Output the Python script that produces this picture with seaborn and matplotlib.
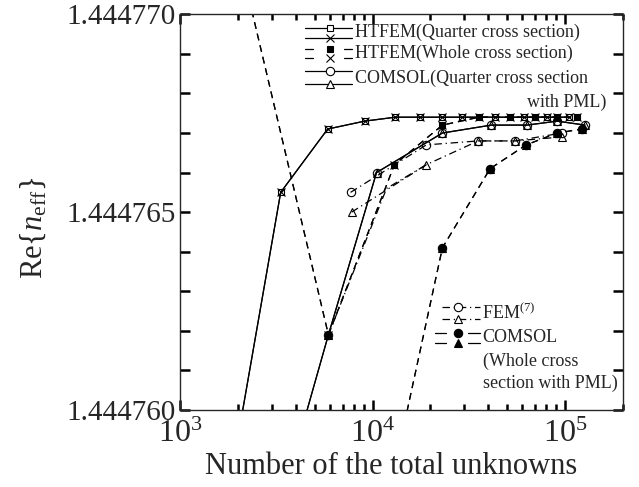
import numpy as np
import pandas as pd
import seaborn as sns
import matplotlib
matplotlib.use("Agg")
import matplotlib.pyplot as plt
from matplotlib.ticker import LogLocator, FixedLocator, FuncFormatter, NullFormatter

# ---------------- data ----------------
# HTFEM (quarter cross section): square & cross, solid
htq_x = [1950, 3334, 5848, 9094, 13160, 17740, 23070, 29250, 43370, 61380, 80760, 104900]
htq_y = [1.4447590, 1.4447655, 1.4447671, 1.4447673, 1.4447674, 1.4447674,
         1.4447674, 1.4447674, 1.4447674, 1.4447674, 1.4447674, 1.4447674]
# HTFEM (whole cross section): filled square & cross, dashed
htw_x = [1950, 5900, 13000, 23070, 35810, 51880, 69930, 90950, 115300]
htw_y = [1.4447718, 1.4447619, 1.4447662, 1.4447672, 1.4447674, 1.4447674,
         1.4447674, 1.4447674, 1.4447674]
# COMSOL (quarter cross section with PML): circle & triangle, solid
cq_x = [4000, 5900, 10490, 23070, 41400, 63500, 90950, 127000]
cq_y = [1.4447590, 1.4447619, 1.4447660, 1.4447670, 1.4447672, 1.4447672,
        1.4447673, 1.4447672]
# FEM(7): open circle & open triangle, dash-dot
fem_c_x = [7690, 19050, 35400, 55080, 96400]
fem_c_y = [1.4447655, 1.4447667, 1.4447668, 1.4447668, 1.4447670]
fem_t_x = [7790, 19050, 35400, 55080, 96400]
fem_t_y = [1.4447650, 1.4447662, 1.4447668, 1.4447668, 1.4447669]
fem_b_x = [5900, 11830, 19050]
fem_b_y = [1.4447619, 1.4447656, 1.4447662]
# COMSOL (whole cross section with PML): filled circle & triangle, dashed
cw_x = [13000, 23070, 40830, 62810, 90950, 122400]
cw_y = [1.4447585, 1.4447641, 1.4447661, 1.4447667, 1.4447670, 1.4447671]

ytick_vals = [1.444760, 1.444765, 1.444770]
ytick_minor = [1.444760 + i * 1e-6 for i in range(11)]
xlim = (1e3, 2e5)
ylim = (1.444760, 1.444770)

# ---------------- style ----------------
sns.set_style("ticks", {"xtick.direction": "in", "ytick.direction": "in"})
plt.rcParams.update({
    "font.family": ["Liberation Serif", "DejaVu Serif"],
    "mathtext.fontset": "custom",
    "mathtext.rm": "Liberation Serif",
    "mathtext.it": "Liberation Serif:italic",
    "mathtext.bf": "Liberation Serif:bold",
})

fig = plt.figure(figsize=(6.39, 4.87), dpi=100)
L, R, B, T = 180, 623, 410, 14.3
W, H = 639, 487
ax = fig.add_axes([L / W, 1 - B / H, (R - L) / W, (B - T) / H])

DASH = (0, (5.5, 4))
DASHDOT = (0, (6, 3, 1, 3))
LW = 0.9
MEW = 0.8
MSIZE = {"o": 6.0, "^": 6.0, "s": 5.0, "x": 5.5}


def series(x, y, ls, marker, filled):
    df = pd.DataFrame({"x": x, "y": y})
    sns.lineplot(data=df, x="x", y="y", ax=ax, color="k", linestyle=ls, lw=LW,
                 marker=marker, markersize=MSIZE[marker],
                 markerfacecolor=("k" if filled else "none"),
                 markeredgecolor="k", markeredgewidth=MEW,
                 errorbar=None, sort=False, legend=False)


ax.set_xscale("log")
# dash-dot branch (no markers)
sns.lineplot(data=pd.DataFrame({"x": fem_b_x, "y": fem_b_y}), x="x", y="y", ax=ax,
             color="k", linestyle=DASHDOT, lw=LW, errorbar=None, sort=False, legend=False)
series(fem_c_x, fem_c_y, DASHDOT, "o", False)
series(fem_t_x, fem_t_y, DASHDOT, "^", False)
series(cw_x, cw_y, DASH, "o", True)
series(cw_x, cw_y, DASH, "^", True)
series(cq_x, cq_y, "-", "o", False)
series(cq_x, cq_y, "-", "^", False)
series(htw_x, htw_y, DASH, "s", True)
series(htw_x, htw_y, DASH, "x", True)
series(htq_x, htq_y, "-", "s", False)
series(htq_x, htq_y, "-", "x", False)

ax.set_xlim(*xlim)
ax.set_ylim(*ylim)

ax.xaxis.set_major_locator(LogLocator(base=10))
ax.xaxis.set_minor_locator(LogLocator(base=10, subs=np.arange(2, 10)))
ax.xaxis.set_minor_formatter(NullFormatter())
ax.yaxis.set_major_locator(FixedLocator(ytick_vals))
ax.yaxis.set_minor_locator(FixedLocator(ytick_minor))
ax.yaxis.set_major_formatter(FuncFormatter(lambda v, p: f"{v:.6f}"))
ax.yaxis.set_minor_formatter(NullFormatter())

ax.tick_params(which="both", direction="in", top=True, right=True, width=1.8,
               color="k", length=7)
ax.tick_params(axis="x", which="minor", length=4.5)
ax.tick_params(axis="y", labelsize=21, pad=3)
ax.tick_params(axis="x", labelsize=23, pad=7)

for s in ax.spines.values():
    s.set_linewidth(1.0)

ax.set_xlabel("Number of the total unknowns", fontsize=22, va="center")
ax.xaxis.set_label_coords((391 - L) / (R - L), (B - 466) / (B - T))
ax.set_ylabel(r"Re$\{n_{\mathrm{eff}}\}$", fontsize=22, va="center")
ax.yaxis.set_label_coords((33 - L) / (R - L), (B - 228) / (B - T))


# ---------------- legends (drawn in axes fraction) ----------------
def P(px, py):
    return (px - L) / (R - L), (B - py) / (B - T)


def mark(xm, y, marker, filled):
    am, b = P(xm, y)
    ax.plot([am], [b], transform=ax.transAxes, marker=marker, ms=MSIZE[marker],
            mfc=("k" if filled else "white"), mec="k", mew=MEW, clip_on=False, ls="none")


def sample(x0, x1, y, ls, marker, filled, xm):
    a0, b = P(x0, y)
    a1, _ = P(x1, y)
    ax.plot([a0, a1], [b, b], transform=ax.transAxes, color="k", lw=LW, linestyle=ls,
            clip_on=False)
    mark(xm, y, marker, filled)


def seg_sample(segs, y, marker, filled, xm):
    for x0, x1 in segs:
        a0, b = P(x0, y)
        a1, _ = P(x1, y)
        ax.plot([a0, a1], [b, b], transform=ax.transAxes, color="k", lw=LW, clip_on=False)
    mark(xm, y, marker, filled)


def label(px, py, s, ha="left"):
    a, b = P(px, py)
    ax.text(a, b, s, transform=ax.transAxes, fontsize=13, ha=ha, va="center")


# top legend
sample(305, 352, 28, "-", "s", False, 330)
sample(305, 352, 38, "-", "x", False, 330)
label(355, 32, "HTFEM(Quarter cross section)")
seg_sample([(305, 313), (344, 352)], 49, "s", True, 330)
seg_sample([(305, 313), (344, 352)], 58, "x", True, 330)
label(355, 53, "HTFEM(Whole cross section)")
sample(305, 352, 71, "-", "o", False, 330)
sample(305, 352, 84, "-", "^", False, 330)
label(355, 78, "COMSOL(Quarter cross section")
label(606, 102, "with PML)", ha="right")

# bottom legend
sample(442, 480, 307, DASHDOT, "o", False, 458)
sample(442, 480, 319, DASHDOT, "^", False, 458)
label(482, 313, r"FEM$^{(7)}$")
seg_sample([(435, 446), (468, 480)], 333, "o", True, 458)
seg_sample([(435, 446), (468, 480)], 343, "^", True, 458)
label(482, 338, "COMSOL")
label(483, 361, "(Whole cross")
label(483, 383, "section with PML)")

fig.savefig("out.png", dpi=100)
